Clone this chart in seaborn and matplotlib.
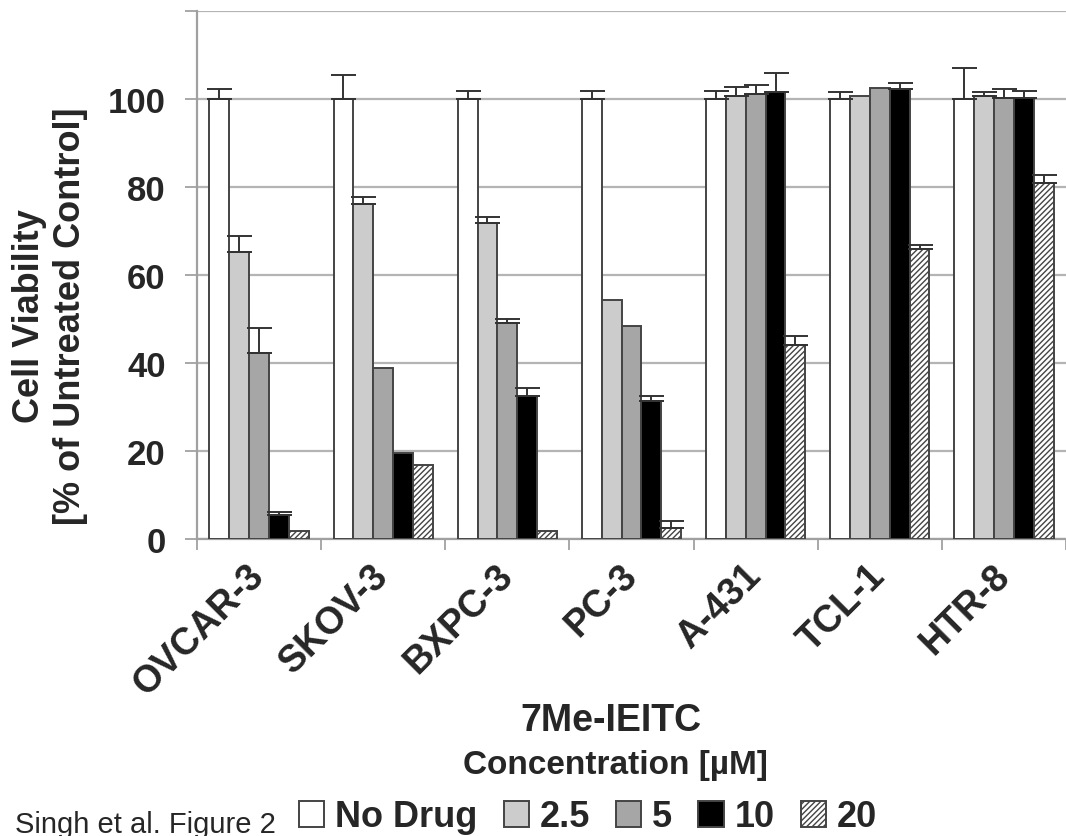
import numpy as np
import pandas as pd
import matplotlib
matplotlib.use("Agg")
import matplotlib.pyplot as plt
import seaborn as sns

# data (mean and upper error)
cell_lines = ["OVCAR-3", "SKOV-3", "BXPC-3", "PC-3", "A-431", "TCL-1", "HTR-8"]
doses = ["No Drug", "2.5", "5", "10", "20"]

no_drug = [100, 100, 100, 100, 100, 100, 100]
dose_2_5 = [65.3, 76.1, 71.8, 54.3, 100.6, 100.6, 100.6]
dose_5 = [42.2, 38.9, 49.0, 48.5, 101.2, 102.6, 100.2]
dose_10 = [5.4, 19.5, 32.6, 31.4, 101.5, 102.3, 100.2]
dose_20 = [1.9, 16.8, 1.8, 2.4, 44.2, 65.9, 80.8]

err_no_drug = [2.3, 5.5, 1.8, 1.8, 1.8, 1.5, 7.1]
err_2_5 = [3.6, 1.7, 1.3, 0.0, 2.2, 0.0, 1.0]
err_5 = [5.8, 0.0, 1.1, 0.0, 2.0, 0.0, 2.1]
err_10 = [0.8, 0.0, 1.7, 1.2, 4.4, 1.3, 1.6]
err_20 = [0.0, 0.0, 0.0, 1.8, 2.0, 1.0, 1.9]

bar_colors = ["#ffffff", "#cccccc", "#a6a6a6", "#000000", "#ffffff"]

means = [no_drug, dose_2_5, dose_5, dose_10, dose_20]
errs = [err_no_drug, err_2_5, err_5, err_10, err_20]

df = pd.DataFrame({
    "line": np.tile(cell_lines, len(doses)),
    "dose": np.repeat(doses, len(cell_lines)),
    "viability": np.concatenate(means),
})

sns.set_theme(style="white")
plt.rcParams["font.family"] = ["Liberation Sans", "DejaVu Sans"]
plt.rcParams["hatch.linewidth"] = 1.0
plt.rcParams["hatch.color"] = "#222222"

fig = plt.figure(figsize=(10.66, 8.37), dpi=100)
ax = fig.add_axes([197 / 1066, 1 - 540 / 837, 869 / 1066, 528 / 837])

sns.barplot(data=df, x="line", y="viability", hue="dose", order=cell_lines,
            hue_order=doses, palette=bar_colors, saturation=1, width=0.8,
            edgecolor="#444444", linewidth=1.4, errorbar=None, ax=ax, zorder=3)

bars = list(ax.containers)
for p in bars[4].patches:  # 20 uM is hatched
    p.set_hatch("//////")

for cont, e in zip(bars, errs):
    xs = np.array([p.get_x() + p.get_width() / 2 for p in cont.patches])
    ys = np.array([p.get_height() for p in cont.patches])
    e = np.array(e)
    m = e > 0
    ax.errorbar(xs[m], ys[m], yerr=[np.zeros(m.sum()), e[m]], fmt="none",
                ecolor="#333333", elinewidth=1.4, capsize=9, capthick=1.4, zorder=4)

ax.set_xlim(-0.5, 6.5)
ax.set_ylim(0, 120)
ax.set_yticks(range(0, 121, 20))
ax.set_yticklabels([str(v) for v in range(0, 101, 20)] + [""],
                   fontsize=25, fontweight="bold")
ax.yaxis.grid(True, color="#b4b4b4", linewidth=1.6, zorder=0)
ax.set_axisbelow(True)

ax.set_xticks(range(len(cell_lines)))
ax.set_xticklabels(cell_lines, fontsize=27, fontweight="bold", rotation=45,
                   ha="right", va="center", rotation_mode="anchor")
ax.set_xticks(np.arange(-0.5, 7, 1), minor=True)
ax.tick_params(axis="x", which="major", length=0, pad=22)
ax.tick_params(axis="x", which="minor", length=8, color="#999999", width=1.2,
               direction="out", bottom=True)
ax.tick_params(axis="y", length=8.5, color="#999999", width=1.2, left=True, pad=14)

for s in ["top", "right"]:
    ax.spines[s].set_visible(False)
for s in ["left", "bottom"]:
    ax.spines[s].set_color("#a0a0a0")
    ax.spines[s].set_linewidth(1.6)

ax.set_xlabel("")
ax.set_ylabel("")
ax.legend_.remove()

fig.text(50 / 1066, 1 - 316 / 837, "Cell Viability\n[% of Untreated Control]",
         rotation=90, ha="center", va="center", multialignment="center",
         fontsize=26, fontweight="bold", linespacing=1.25)

fig.text(611 / 1066, 1 - 721 / 837, "7Me-IEITC", ha="center", va="center",
         fontsize=27, fontweight="bold")
fig.text(615 / 1066, 1 - 766 / 837, "Concentration [\u00b5M]", ha="center",
         va="center", fontsize=24, fontweight="bold")
fig.text(15 / 1066, 1 - 833 / 837, "Singh et al. Figure 2", ha="left",
         va="baseline", fontsize=21)

fig.legend(handles=[c.patches[0] for c in bars], labels=doses,
           loc="center", bbox_to_anchor=(588 / 1066, 1 - 818 / 837), ncol=5,
           frameon=False, prop={"size": 26, "weight": "bold"},
           handlelength=0.7, handleheight=0.7, handletextpad=0.3,
           columnspacing=0.72, borderpad=0.1)

fig.savefig("out.png", dpi=100)
